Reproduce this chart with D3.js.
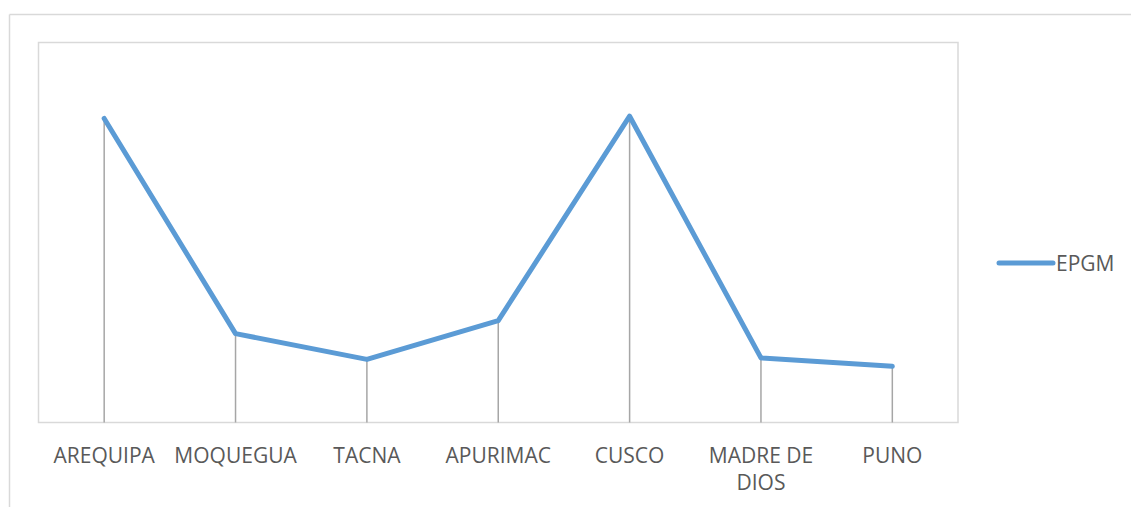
<!DOCTYPE html>
<html>
<head>
<meta charset="utf-8">
<script src="https://cdn.jsdelivr.net/npm/d3@7"></script>
<style>
  html, body { margin: 0; padding: 0; background: #fff; }
  svg { display: block; }
  svg text { font-family: "Open Sans", "Liberation Sans", sans-serif; }
</style>
</head>
<body>
<svg id="chart" width="1131" height="507"></svg>
<script>
// Regions and EPGM values
const categories = ["AREQUIPA", "MOQUEGUA", "TACNA", "APURIMAC", "CUSCO", "MADRE DE DIOS", "PUNO"];
const epgm = [40.0, 11.7, 8.3, 13.4, 40.3, 8.5, 7.4];
const seriesName = "EPGM";

const svg = d3.select("#chart");
const W = 1131, H = 507;

// Outer chart frame (top and left edges visible)
svg.append("line").attr("x1", 9.5).attr("y1", 14.5).attr("x2", W).attr("y2", 14.5)
  .attr("stroke", "#d9d9d9").attr("stroke-width", 1.5);
svg.append("line").attr("x1", 9.5).attr("y1", 14.5).attr("x2", 9.5).attr("y2", H)
  .attr("stroke", "#d9d9d9").attr("stroke-width", 1.5);

const plot = { left: 38.5, top: 42.5, right: 958, bottom: 422.5 };

const x = d3.scaleBand().domain(categories).range([plot.left, plot.right]);
const y = d3.scaleLinear().domain([0, 50]).range([plot.bottom, plot.top]);

// Plot area border
svg.append("rect")
  .attr("x", plot.left).attr("y", plot.top)
  .attr("width", plot.right - plot.left).attr("height", plot.bottom - plot.top)
  .attr("fill", "none").attr("stroke", "#d9d9d9").attr("stroke-width", 1.5);

const data = categories.map((c, i) => ({ c, v: epgm[i] }));
const cx = d => x(d.c) + x.bandwidth() / 2;

// Drop lines from each point to the category axis
svg.append("g").selectAll("line").data(data).join("line")
  .attr("x1", cx).attr("x2", cx)
  .attr("y1", d => y(d.v)).attr("y2", plot.bottom)
  .attr("stroke", "#a6a6a6").attr("stroke-width", 1.5);

// Series line
svg.append("path").datum(data)
  .attr("d", d3.line().x(cx).y(d => y(d.v)))
  .attr("fill", "none").attr("stroke", "#5b9bd5")
  .attr("stroke-width", 5).attr("stroke-linejoin", "round").attr("stroke-linecap", "round");

// Category labels (wrapped to the band width)
const axis = d3.axisBottom(x).tickSize(0).tickPadding(0);
const ax = svg.append("g").attr("transform", `translate(0,${plot.bottom})`).call(axis);
ax.attr("font-family", null).attr("font-size", null);
ax.select(".domain").remove();
ax.selectAll(".tick text").each(function(d) {
  const t = d3.select(this);
  t.text(null).attr("y", 0).attr("dy", null)
    .attr("fill", "#595959").style("font-size", "21px");
  const words = d.split(" ");
  const lines = [];
  let cur = "";
  words.forEach(w => {
    const trial = cur ? cur + " " + w : w;
    if (trial.length > 9 && cur) { lines.push(cur); cur = w; } else { cur = trial; }
  });
  lines.push(cur);
  lines.forEach((ln, i) => {
    t.append("tspan").attr("x", 0).attr("y", 40.5 + i * 27).text(ln);
  });
});

// Legend
const lg = svg.append("g").attr("transform", "translate(999,263)");
lg.append("line").attr("x1", 0).attr("x2", 54).attr("y1", 0).attr("y2", 0)
  .attr("stroke", "#5b9bd5").attr("stroke-width", 5).attr("stroke-linecap", "round");
lg.append("text").attr("x", 57).attr("y", 7.5).text(seriesName)
  .attr("fill", "#595959").style("font-size", "21px");
</script>
</body>
</html>
